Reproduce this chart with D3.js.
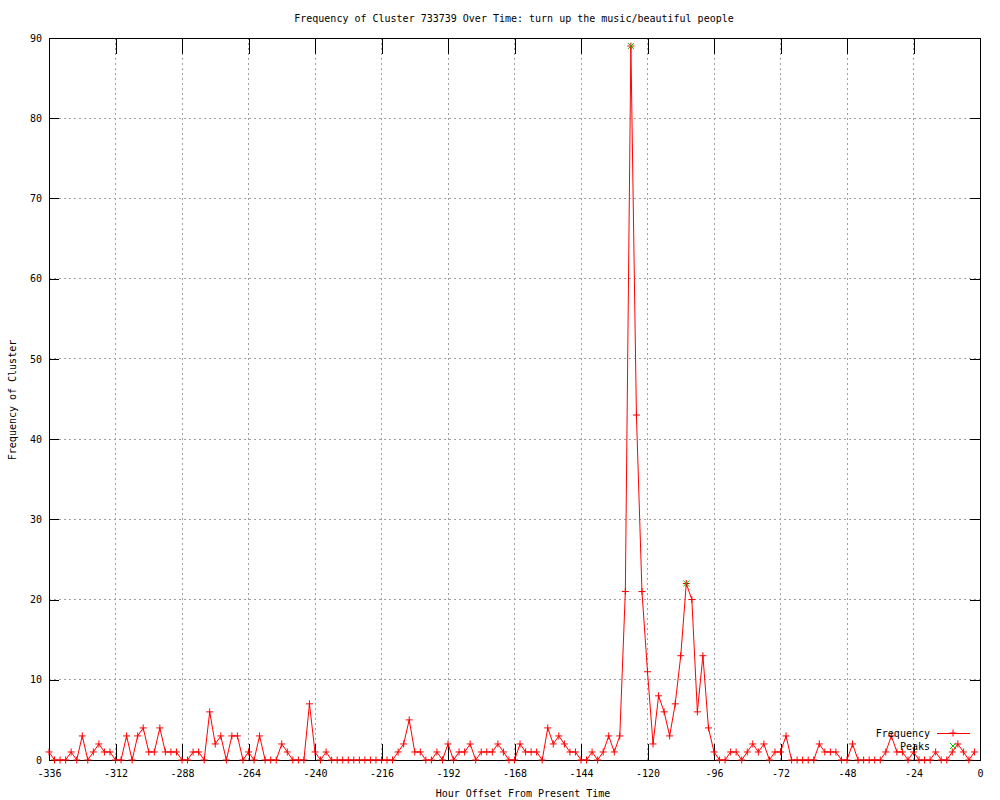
<!DOCTYPE html>
<meta charset="utf-8">
<script src="https://d3js.org/d3.v7.min.js"></script>
<style>
  body { margin: 0; background: #fff; }
  text { font-family: "DejaVu Sans Mono", monospace; font-size: 10px; fill: #000; }
</style>
<div id="chart"></div>
<script>
// hour offsets, one sample every 2 hours
const hours = [
  -336, -334, -332, -330, -328, -326, -324, -322, -320, -318, -316, -314,
  -312, -310, -308, -306, -304, -302, -300, -298, -296, -294, -292, -290,
  -288, -286, -284, -282, -280, -278, -276, -274, -272, -270, -268, -266,
  -264, -262, -260, -258, -256, -254, -252, -250, -248, -246, -244, -242,
  -240, -238, -236, -234, -232, -230, -228, -226, -224, -222, -220, -218,
  -216, -214, -212, -210, -208, -206, -204, -202, -200, -198, -196, -194,
  -192, -190, -188, -186, -184, -182, -180, -178, -176, -174, -172, -170,
  -168, -166, -164, -162, -160, -158, -156, -154, -152, -150, -148, -146,
  -144, -142, -140, -138, -136, -134, -132, -130, -128, -126, -124, -122,
  -120, -118, -116, -114, -112, -110, -108, -106, -104, -102, -100, -98,
  -96, -94, -92, -90, -88, -86, -84, -82, -80, -78, -76, -74,
  -72, -70, -68, -66, -64, -62, -60, -58, -56, -54, -52, -50,
  -48, -46, -44, -42, -40, -38, -36, -34, -32, -30, -28, -26,
  -24, -22, -20, -18, -16, -14, -12, -10, -8, -6, -4, -2
];
const frequency = [
  1, 0, 0, 0, 1, 0, 3, 0, 1, 2, 1, 1,
  0, 0, 3, 0, 3, 4, 1, 1, 4, 1, 1, 1,
  0, 0, 1, 1, 0, 6, 2, 3, 0, 3, 3, 0,
  1, 0, 3, 0, 0, 0, 2, 1, 0, 0, 0, 7,
  1, 0, 1, 0, 0, 0, 0, 0, 0, 0, 0, 0,
  0, 0, 0, 1, 2, 5, 1, 1, 0, 0, 1, 0,
  2, 0, 1, 1, 2, 0, 1, 1, 1, 2, 1, 0,
  0, 2, 1, 1, 1, 0, 4, 2, 3, 2, 1, 1,
  0, 0, 1, 0, 1, 3, 1, 3, 21, 89, 43, 21,
  11, 2, 8, 6, 3, 7, 13, 22, 20, 6, 13, 4,
  1, 0, 0, 1, 1, 0, 1, 2, 1, 2, 0, 1,
  1, 3, 0, 0, 0, 0, 0, 2, 1, 1, 1, 0,
  0, 2, 0, 0, 0, 0, 0, 1, 3, 1, 1, 0,
  1, 0, 0, 0, 1, 0, 0, 1, 2, 1, 0, 1
];
const peakHours = [-126, -106];
const peakValues = [89, 22];
const xTicks = [-336, -312, -288, -264, -240, -216, -192, -168, -144, -120, -96, -72, -48, -24, 0];
const yTicks = [0, 10, 20, 30, 40, 50, 60, 70, 80, 90];

const titleText = "Frequency of Cluster 733739 Over Time: turn up the music/beautiful people";

const W = 1000, H = 800;
const margin = {top: 38, right: 20, bottom: 40, left: 49};
const width = W - margin.left - margin.right,
      height = H - margin.top - margin.bottom;

const svg = d3.select("#chart").append("svg")
    .attr("width", W).attr("height", H);

const g = svg.append("g")
    .attr("transform", `translate(${margin.left},${margin.top})`);

const x = d3.scaleLinear().domain([-336, 0]).range([0, width]);
const y = d3.scaleLinear().domain([0, 90]).range([height, 0]);

// grid
g.append("g").selectAll("line.vx")
    .data(xTicks.slice(1, -1))
    .join("line")
    .attr("x1", d => x(d)).attr("x2", d => x(d))
    .attr("y1", 0).attr("y2", height)
    .attr("stroke", "#a0a0a0").attr("stroke-dasharray", "2,3")
    .attr("shape-rendering", "crispEdges");
g.append("g").selectAll("line.hy")
    .data(yTicks.slice(1, -1))
    .join("line")
    .attr("x1", 0).attr("x2", width)
    .attr("y1", d => y(d)).attr("y2", d => y(d))
    .attr("stroke", "#a0a0a0").attr("stroke-dasharray", "2,3")
    .attr("shape-rendering", "crispEdges");

// axes with inward ticks, mirrored
function styleAxis(sel) {
  sel.select(".domain").remove();
  sel.selectAll(".tick line").attr("stroke", "#000").attr("shape-rendering", "crispEdges");
  sel.selectAll(".tick text").attr("fill", "#000")
      .style("font-family", "DejaVu Sans Mono, monospace").style("font-size", "10px");
}
g.append("g").attr("transform", `translate(0,${height})`)
    .call(d3.axisBottom(x).tickValues(xTicks).tickSizeInner(-16).tickSizeOuter(0).tickPadding(10)
        .tickFormat(d => String(d)))
    .call(styleAxis);
g.append("g")
    .call(d3.axisTop(x).tickValues(xTicks).tickSizeInner(-16).tickSizeOuter(0).tickFormat(""))
    .call(styleAxis);
g.append("g")
    .call(d3.axisLeft(y).tickValues(yTicks).tickSizeInner(-10).tickSizeOuter(0).tickPadding(7)
        .tickFormat(d => String(d)))
    .call(styleAxis);
g.append("g").attr("transform", `translate(${width},0)`)
    .call(d3.axisRight(y).tickValues(yTicks).tickSizeInner(-10).tickSizeOuter(0).tickFormat(""))
    .call(styleAxis);

// border
g.append("rect")
    .attr("x", 0).attr("y", 0).attr("width", width).attr("height", height)
    .attr("fill", "none").attr("stroke", "#000").attr("shape-rendering", "crispEdges");

const data = hours.map((h, i) => ({h: h, v: frequency[i]}));
const peaks = peakHours.map((h, i) => ({h: h, v: peakValues[i]}));

const plus = "M-3.5,0H3.5M0,-3.5V3.5";
const cross = "M-3,-3L3,3M-3,3L3,-3";

// frequency line
g.append("path")
    .datum(data)
    .attr("fill", "none")
    .attr("stroke", "#ff0000")
    .attr("stroke-width", 1)
    .attr("d", d3.line().x(d => x(d.h)).y(d => y(d.v)));

g.append("g").selectAll("path")
    .data(data)
    .join("path")
    .attr("transform", d => `translate(${x(d.h)},${y(d.v)})`)
    .attr("d", plus)
    .attr("stroke", "#ff0000").attr("fill", "none");

// peaks
g.append("g").selectAll("path")
    .data(peaks)
    .join("path")
    .attr("transform", d => `translate(${x(d.h)},${y(d.v)})`)
    .attr("d", cross)
    .attr("stroke", "#00c000").attr("fill", "none");

// legend
const lg = svg.append("g");
lg.append("text").attr("x", 930).attr("y", 737).attr("text-anchor", "end").text("Frequency");
lg.append("line").attr("x1", 937).attr("x2", 970).attr("y1", 733).attr("y2", 733)
    .attr("stroke", "#ff0000").attr("shape-rendering", "crispEdges");
lg.append("path").attr("transform", "translate(953,733)").attr("d", plus).attr("stroke", "#ff0000");
lg.append("text").attr("x", 930).attr("y", 750).attr("text-anchor", "end").text("Peaks");
lg.append("path").attr("transform", "translate(953,746)").attr("d", cross).attr("stroke", "#00c000");

// titles
svg.append("text").attr("x", 514).attr("y", 22).attr("text-anchor", "middle").text(titleText);
svg.append("text").attr("x", 523).attr("y", 797).attr("text-anchor", "middle").text("Hour Offset From Present Time");
svg.append("text")
    .attr("transform", "translate(16,400) rotate(-90)")
    .attr("text-anchor", "middle")
    .text("Frequency of Cluster");
</script>
